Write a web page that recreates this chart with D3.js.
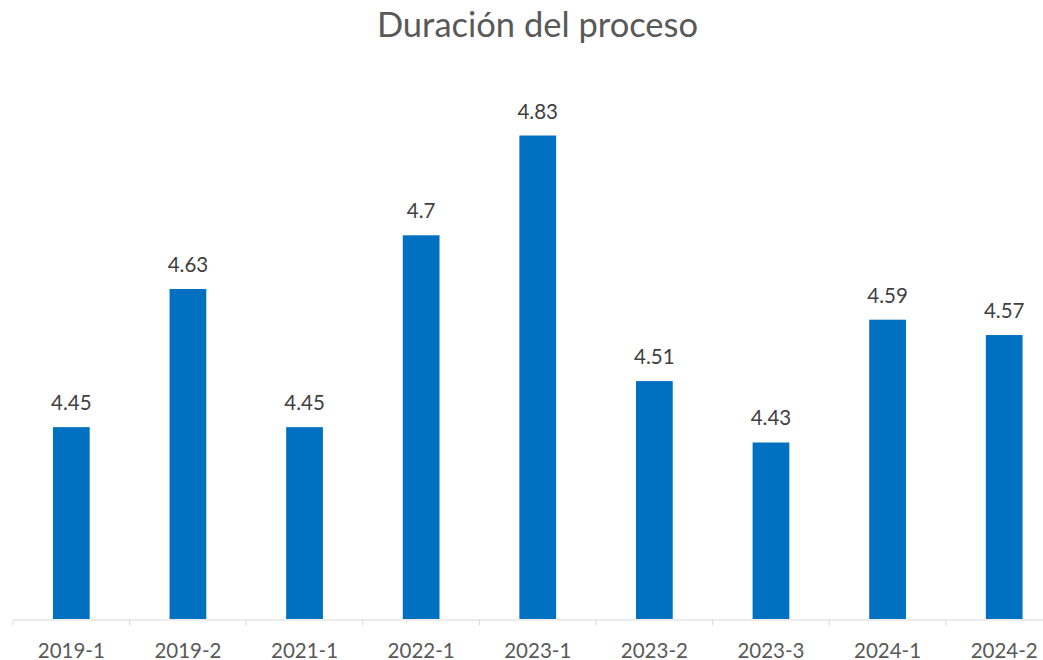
<!DOCTYPE html>
<html><head><meta charset="utf-8">
<script src="https://cdn.jsdelivr.net/npm/d3@7"></script>
<style>body{margin:0;background:#fff;}svg{display:block;}</style>
</head><body>
<svg id="c" width="1043" height="660"></svg>
<script>
const categories = ["2019-1","2019-2","2021-1","2022-1","2023-1","2023-2","2023-3","2024-1","2024-2"];
const values = [4.45,4.63,4.45,4.7,4.83,4.51,4.43,4.59,4.57];
const title = "Duración del proceso";

const svg = d3.select("#c");
const font = "Lato, 'Open Sans', sans-serif";
const x = d3.scaleBand().domain(categories).range([13, 1062.5]).paddingInner(0.685).paddingOuter(0.3425);
const y = d3.scaleLinear().domain([4.2, 4.9]).range([619, 81.8]);

svg.append("text").attr("x", 537.5).attr("y", 37).attr("text-anchor","middle")
  .attr("font-family", font).attr("font-size", 34.5).attr("fill","#595959").text(title);

svg.selectAll("rect.bar").data(values).join("rect").attr("class","bar")
  .attr("x",(d,i)=>x(categories[i])).attr("width",x.bandwidth())
  .attr("y",d=>y(d)).attr("height",d=>y(4.2)-y(d)).attr("fill","#0070C0");

svg.selectAll("text.lbl").data(values).join("text").attr("class","lbl")
  .attr("x",(d,i)=>x(categories[i])+x.bandwidth()/2).attr("y",d=>y(d)-17)
  .attr("text-anchor","middle").attr("font-family",font).attr("font-size",20.5)
  .attr("fill","#404040").text(d=>d);

const xb = d3.scaleBand().domain(categories).range([13,1062.5]);
const ax = svg.append("g").attr("transform","translate(0,619.5)")
  .call(d3.axisBottom(xb).tickSizeInner(0).tickSizeOuter(0));
ax.select(".domain").attr("stroke","#d9d9d9");
ax.selectAll(".tick text").attr("font-family",font).attr("font-size",20.5).attr("fill","#595959").attr("dy",0).attr("y",38);
svg.append("g").selectAll("line").data(d3.range(categories.length+1)).join("line")
  .attr("x1",i=>13+i*xb.step()).attr("x2",i=>13+i*xb.step())
  .attr("y1",619.5).attr("y2",625.5).attr("stroke","#d9d9d9");
</script>
</body></html>
